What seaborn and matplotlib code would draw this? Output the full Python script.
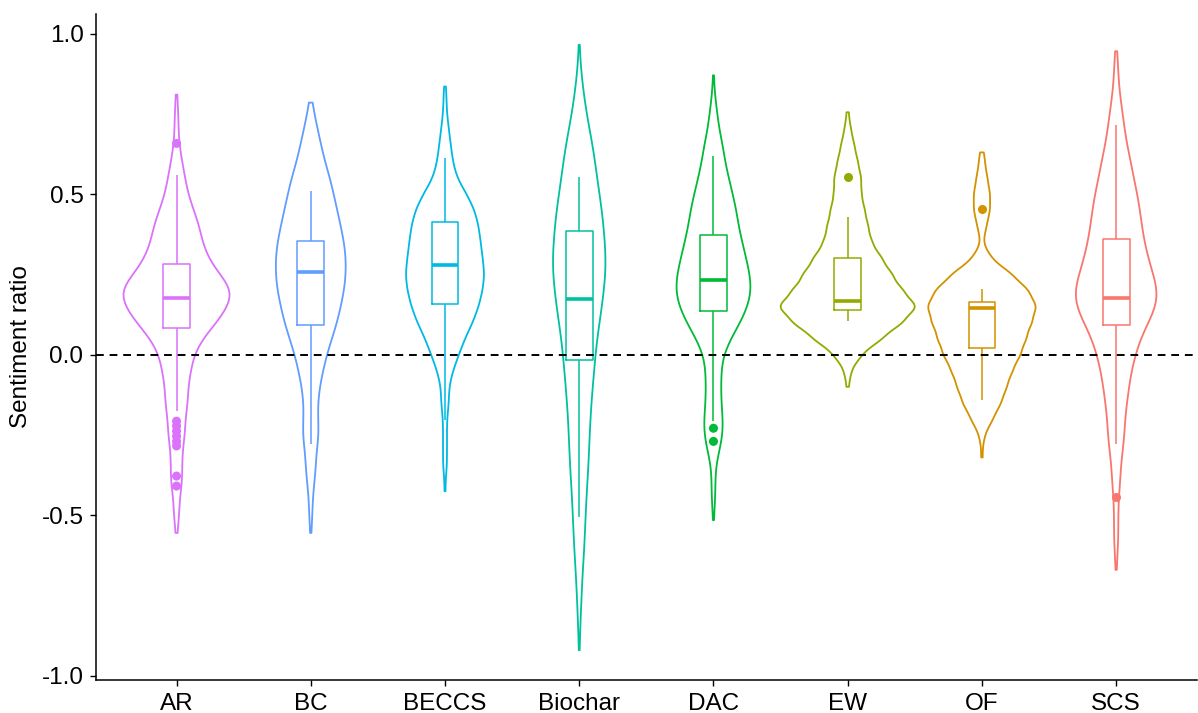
import numpy as np
import pandas as pd
import seaborn as sns
import matplotlib.pyplot as plt

categories = ["AR", "BC", "BECCS", "Biochar", "DAC", "EW", "OF", "SCS"]
colors = ["#DB72FB", "#619CFF", "#00B9E3", "#00C19F", "#00BA38", "#93AA00", "#D39200", "#F8766D"]

# Violin samples: sentiment values, with counts
ar_vals = [0.81, 0.75, 0.70, 0.65, 0.60, 0.55, 0.50, 0.45, 0.40, 0.35, 0.30, 0.25, 0.20, 0.15, 0.10, 0.05, 0.00,
           -0.05, -0.10, -0.15, -0.20, -0.25, -0.30, -0.35, -0.40, -0.45, -0.50, -0.555]
ar_counts = [1, 2, 2, 3, 6, 9, 12, 18, 24, 27, 33, 45, 60, 54, 42, 27, 18, 15, 12, 12, 9, 9, 6, 6, 6, 3, 3, 1]

bc_vals = [0.785, 0.75, 0.70, 0.65, 0.60, 0.55, 0.50, 0.45, 0.40, 0.35, 0.30, 0.25, 0.20, 0.15, 0.10, 0.05, 0.00,
           -0.05, -0.10, -0.15, -0.20, -0.25, -0.30, -0.35, -0.40, -0.45, -0.50, -0.555]
bc_counts = [1, 6, 12, 18, 24, 33, 39, 45, 51, 57, 60, 60, 57, 51, 45, 36, 27, 21, 15, 12, 12, 15, 9, 9, 6, 3, 3, 1]

beccs_vals = [0.835, 0.80, 0.75, 0.70, 0.65, 0.60, 0.55, 0.50, 0.45, 0.40, 0.35, 0.30, 0.25, 0.20, 0.15, 0.10, 0.05,
              0.00, -0.05, -0.10, -0.15, -0.20, -0.25, -0.30, -0.35, -0.425]
beccs_counts = [1, 2, 3, 6, 9, 12, 18, 33, 45, 51, 54, 57, 60, 57, 51, 42, 30, 21, 12, 6, 6, 3, 3, 3, 3, 1]

biochar_vals = [0.965, 0.90, 0.85, 0.80, 0.75, 0.70, 0.65, 0.60, 0.55, 0.50, 0.45, 0.40, 0.35, 0.30, 0.25, 0.20, 0.15,
                0.10, 0.05, 0.00, -0.05, -0.10, -0.15, -0.20, -0.25, -0.30, -0.35, -0.40, -0.45, -0.50, -0.55,
                -0.60, -0.65, -0.70, -0.75, -0.80, -0.85, -0.92]
biochar_counts = [1, 3, 6, 12, 15, 24, 30, 36, 39, 45, 51, 54, 57, 60, 60, 54, 51, 45, 39, 36, 33, 30, 27, 24, 24,
                  21, 21, 18, 15, 15, 12, 12, 9, 6, 6, 3, 3, 1]

dac_vals = [0.87, 0.80, 0.75, 0.70, 0.65, 0.60, 0.55, 0.50, 0.45, 0.40, 0.35, 0.30, 0.25, 0.20, 0.15, 0.10, 0.05,
            0.00, -0.05, -0.10, -0.15, -0.20, -0.25, -0.30, -0.35, -0.40, -0.45, -0.515]
dac_counts = [1, 3, 6, 9, 15, 18, 24, 30, 36, 39, 45, 51, 57, 60, 54, 42, 27, 15, 12, 12, 12, 15, 15, 9, 3, 3, 3, 1]

ew_vals = [0.755, 0.70, 0.65, 0.60, 0.55, 0.50, 0.45, 0.40, 0.35, 0.30, 0.25, 0.20, 0.15, 0.10, 0.05, 0.00, -0.05, -0.10]
ew_counts = [1, 3, 6, 9, 12, 12, 15, 18, 21, 30, 39, 48, 62, 48, 30, 12, 3, 1]

of_vals = [0.63, 0.60, 0.55, 0.50, 0.45, 0.40, 0.35, 0.30, 0.25, 0.20, 0.15, 0.10, 0.05, 0.00, -0.05, -0.10, -0.15,
           -0.20, -0.25, -0.32]
of_counts = [1, 3, 6, 9, 9, 5, 1, 10, 33, 51, 60, 54, 48, 42, 33, 27, 21, 12, 3, 1]

scs_vals = [0.945, 0.90, 0.85, 0.80, 0.75, 0.70, 0.65, 0.60, 0.55, 0.50, 0.45, 0.40, 0.35, 0.30, 0.25, 0.20, 0.15,
            0.10, 0.05, 0.00, -0.05, -0.10, -0.15, -0.20, -0.25, -0.30, -0.35, -0.40, -0.45, -0.50, -0.55, -0.60,
            -0.67]
scs_counts = [1, 3, 3, 6, 9, 12, 15, 21, 24, 30, 33, 36, 39, 45, 51, 60, 57, 45, 33, 27, 21, 18, 15, 12, 12, 9, 6,
              6, 3, 3, 3, 3, 1]

# Box summaries: lower whisker, Q1, median, Q3, upper whisker
ar_box = [-0.175, 0.084, 0.178, 0.281, 0.559]
bc_box = [-0.278, 0.094, 0.257, 0.353, 0.509]
beccs_box = [-0.203, 0.159, 0.280, 0.413, 0.613]
biochar_box = [-0.505, -0.016, 0.172, 0.384, 0.553]
dac_box = [-0.205, 0.137, 0.233, 0.374, 0.619]
ew_box = [0.104, 0.139, 0.168, 0.300, 0.428]
of_box = [-0.140, 0.020, 0.144, 0.163, 0.206]
scs_box = [-0.277, 0.094, 0.176, 0.359, 0.716]

# Outliers
out_cat = ["AR", "AR", "AR", "AR", "AR", "AR", "AR", "AR", "AR", "DAC", "DAC", "EW", "OF", "SCS"]
out_val = [0.658, -0.207, -0.222, -0.238, -0.254, -0.270, -0.284, -0.378, -0.409, -0.229, -0.270, 0.553, 0.453, -0.444]

# Style: widest extent of each violin (category units) and KDE bandwidth factors
violin_widths = [0.79, 0.52, 0.58, 0.39, 0.55, 1.0, 0.80, 0.60]
bw_factors = [0.16, 0.16, 0.16, 0.16, 0.16, 0.16, 0.16, 0.16]

violin_vals = [ar_vals, bc_vals, beccs_vals, biochar_vals, dac_vals, ew_vals, of_vals, scs_vals]
violin_counts = [ar_counts, bc_counts, beccs_counts, biochar_counts, dac_counts, ew_counts, of_counts, scs_counts]
box_sets = [ar_box, bc_box, beccs_box, biochar_box, dac_box, ew_box, of_box, scs_box]

vdf = pd.concat([
    pd.DataFrame({"cat": c, "val": np.repeat(v, n)})
    for c, v, n in zip(categories, violin_vals, violin_counts)
], ignore_index=True)
bdf = pd.concat([pd.DataFrame({"cat": c, "val": b}) for c, b in zip(categories, box_sets)], ignore_index=True)
odf = pd.DataFrame({"cat": out_cat, "val": out_val})

pal = dict(zip(categories, colors))

sns.set_style("ticks")
plt.rcParams["font.family"] = ["Liberation Sans", "DejaVu Sans"]

fig = plt.figure(figsize=(11.98, 7.13), dpi=100)
ax = fig.add_axes([96 / 1198, 33 / 713, 1100.7 / 1198, 666 / 713])

for c, col, w, bw in zip(categories, colors, violin_widths, bw_factors):
    sns.violinplot(data=vdf[vdf["cat"] == c], x="cat", y="val", order=categories, color=col,
                   fill=False, inner=None, cut=0, bw_method=bw, density_norm="width",
                   width=w, linewidth=1.3, ax=ax)
sns.boxplot(data=bdf, x="cat", y="val", hue="cat", order=categories, hue_order=categories, palette=pal,
            fill=False, width=0.2, whis=(0, 100), showfliers=False, showcaps=False, linewidth=1.1,
            medianprops=dict(linewidth=2.6), legend=False, ax=ax)
sns.stripplot(data=odf, x="cat", y="val", hue="cat", order=categories, hue_order=categories, palette=pal,
              jitter=False, size=6.5, linewidth=0, legend=False, ax=ax, zorder=4)

ax.axhline(0, color="black", linewidth=1.4, linestyle=(0, (4, 3)), zorder=5)

ax.set_xlim(-0.6, 7.6)
ax.set_ylim(-1.013, 1.061)
ax.set_yticks([-1.0, -0.5, 0.0, 0.5, 1.0])
ax.set_yticklabels(["-1.0", "-0.5", "0.0", "0.5", "1.0"])
ax.set_xlabel("")
ax.set_ylabel("Sentiment ratio", fontsize=17.5, color="black")
ax.yaxis.set_label_coords(-0.058, 0.5)
for s in ["top", "right"]:
    ax.spines[s].set_visible(False)
for s in ["left", "bottom"]:
    ax.spines[s].set_linewidth(1.1)
    ax.spines[s].set_color("black")
ax.tick_params(axis="both", labelsize=17.5, colors="black", length=4, width=1.0, pad=5)

fig.savefig("out.png", dpi=100)
